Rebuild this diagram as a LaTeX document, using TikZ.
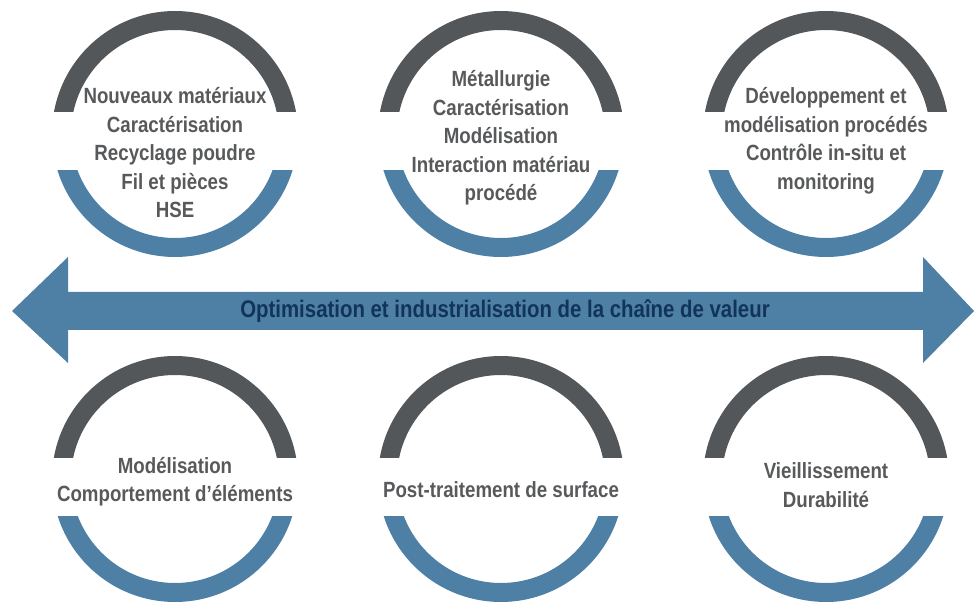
\documentclass[tikz,border=0pt]{standalone}
\usepackage{fontspec}
\setsansfont{Liberation Sans}[FakeStretch=0.85]
\usepackage{tikz}
\usetikzlibrary{calc}
\definecolor{ringgray}{HTML}{53575A}
\definecolor{ringblue}{HTML}{4E80A6}
\definecolor{textgray}{HTML}{58595B}
\definecolor{navytext}{HTML}{12345A}

\begin{document}
\begin{tikzpicture}[
  x=1pt,y=1pt,
  lbl/.style={align=center,inner sep=0pt,text=textgray,
    font=\sffamily\bfseries\fontsize{22}{28.5}\selectfont},
  bandlbl/.style={lbl,text=navytext,font=\sffamily\bfseries\fontsize{24}{28}\selectfont},
  toparc/.style={draw=ringgray,line width=19pt},
  botarc/.style={draw=ringblue,line width=19pt},
  band/.style={fill=ringblue}
]
\useasboundingbox (0,0) rectangle (974,603);
\coordinate (r1) at (175,469);
\coordinate (r2) at (501,469);
\coordinate (r3) at (826,469);
\coordinate (r4) at (175,124);
\coordinate (r5) at (501,124);
\coordinate (r6) at (826,124);
\foreach \r in {r1,r2,r3,r4,r5,r6} {
  \begin{scope}
    \clip ($(\r)+(-130,22)$) rectangle ($(\r)+(130,130)$);
    \draw[toparc] (\r) circle[radius=113.5];
  \end{scope}
  \begin{scope}
    \clip ($(\r)+(-130,-37)$) rectangle ($(\r)+(130,-130)$);
    \draw[botarc] (\r) circle[radius=113.5];
  \end{scope}
}
\fill[band] (12,292) -- (68,346) -- (68,311) -- (923,311) -- (923,346)
  -- (974,292) -- (923,240) -- (923,273) -- (68,273) -- (68,240) -- cycle;
\node[bandlbl] (chain) at (505,292) {Optimisation et industrialisation de la chaîne de valeur};
\node[lbl] (t1) at (175,450) {Nouveaux matériaux\\Caractérisation\\Recyclage poudre\\Fil et pièces\\HSE};
\node[lbl] (t2) at (501,465) {Métallurgie\\Caractérisation\\Modélisation\\Interaction matériau\\procédé};
\node[lbl] (t3) at (826,462) {Développement et\\modélisation procédés\\Contrôle in-situ et\\monitoring};
\node[lbl] (t4) at (175,121.5) {Modélisation\\Comportement d’éléments};
\node[lbl] (t5) at (501,113) {Post-traitement de surface};
\node[lbl] (t6) at (826,118) {Vieillissement\\Durabilité};
\end{tikzpicture}
\end{document}
